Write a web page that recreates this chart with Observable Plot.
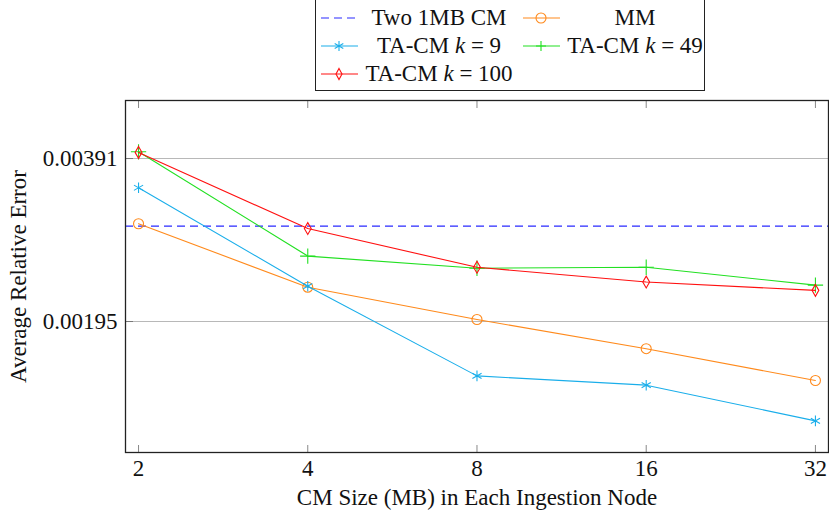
<!DOCTYPE html>
<html><head><meta charset="utf-8">
<script src="https://cdn.jsdelivr.net/npm/d3@7"></script>
<script src="https://cdn.jsdelivr.net/npm/@observablehq/plot@0.6"></script>
<style>
body{margin:0;background:#fff;}
#wrap{position:relative;width:829px;height:517px;font-family:"Liberation Serif",serif;overflow:hidden;}
#legend{position:absolute;left:315px;top:-2px;width:390px;height:93px;border:1.3px solid #222;box-sizing:border-box;background:#fff;}
.item{position:absolute;height:28px;display:flex;align-items:center;font-size:23px;color:#111;}
.item svg{flex:none;}
.item span{display:block;text-align:center;white-space:nowrap;}
#chart{position:absolute;left:0;top:95px;}
</style></head>
<body>
<div id="wrap"><div id="chart"></div><div id="legend"></div></div>
<script>
// ---- data ----
const sizes = [2, 4, 8, 16, 32];
const seriesNames = ["Two 1MB CM", "MM", "TA-CM k = 9", "TA-CM k = 49", "TA-CM k = 100"];
const twoCM = 0.00293;
const mm   = [0.00296, 0.00226, 0.00197, 0.00174, 0.00152];
const k9   = [0.00345, 0.00227, 0.00155, 0.00149, 0.00128];
const k49  = [0.00402, 0.00258, 0.00245, 0.00246, 0.00228];
const k100 = [0.00401, 0.00290, 0.00246, 0.00231, 0.00223];
const yTicks = [0.001953125, 0.00390625];
const yTickLabels = ["0.00195", "0.00391"];

// ---- styles ----
const FONT = '"Liberation Serif", serif';
const colors = {blue: "#2a2aff", orange: "#ff8a1c", cyan: "#1aaeea", green: "#22e022", red: "#ff1010"};
const series = [
  {name: seriesNames[1], values: mm, color: colors.orange, symbol: "circle", r: 5},
  {name: seriesNames[2], values: k9, color: colors.cyan, symbol: "asterisk", r: 5},
  {name: seriesNames[3], values: k49, color: colors.green, symbol: "plus", r: 5},
  {name: seriesNames[4], values: k100, color: colors.red, symbol: "diamond", r: 3.6}
];
const rows = series.flatMap(s => sizes.map((x, i) => ({x, y: s.values[i], name: s.name})));

const marks = [
  Plot.ruleY(yTicks, {stroke: "#b8b8b8", strokeWidth: 1.1}),
  Plot.ruleY([twoCM], {stroke: colors.blue, strokeWidth: 1.2, strokeDasharray: "8,5"}),
  Plot.axisY({ticks: yTicks, tickSize: -8, tickFormat: () => "", stroke: "#777", label: null}),
  Plot.axisY({ticks: yTicks, tickSize: 0, tickPadding: 8, tickFormat: d => yTickLabels[yTicks.indexOf(d)],
    label: "Average Relative Error", labelAnchor: "center", labelOffset: 116, labelArrow: "none", fill: "#111"}),
  Plot.axisX({ticks: sizes, tickSize: -7, tickFormat: () => "", stroke: "#888", label: null}),
  Plot.axisX({anchor: "top", ticks: sizes, tickSize: -7, tickFormat: () => "", stroke: "#888", label: null}),
  Plot.axisX({ticks: sizes, tickSize: 0, tickPadding: 7, tickFormat: d => String(d),
    label: "CM Size (MB) in Each Ingestion Node", labelAnchor: "center", labelOffset: 52, labelArrow: "none", fill: "#111"}),
];
for (const s of series) {
  const d = rows.filter(r => r.name === s.name);
  marks.push(Plot.line(d, {x: "x", y: "y", stroke: s.color, strokeWidth: 1.1}));
  marks.push(Plot.dot(d, {x: "x", y: "y", stroke: s.color, fill: "none", symbol: s.symbol, r: s.r, strokeWidth: 1.1}));
}
marks.push(Plot.frame({stroke: "#222", strokeWidth: 1.3}));

const chart = Plot.plot({
  width: 829, height: 422,
  marginTop: 5, marginBottom: 65, marginLeft: 125, marginRight: 1,
  style: {fontFamily: FONT, fontSize: "23px", color: "#111", background: "#fff"},
  x: {type: "log", base: 2, domain: [1.896, 33.76]},
  y: {type: "log", base: 2, domain: [0.001119, 0.0050]},
  marks
});
document.getElementById("chart").appendChild(chart);

// ---- legend ----
function swatch(color, symbol, dashed) {
  let m = "";
  if (symbol === "circle") m = `<circle cx="19" cy="10" r="5" fill="none" stroke="${color}" stroke-width="1.1"/>`;
  if (symbol === "asterisk") m = `<path d="M19,5V15M14.7,7.5L23.3,12.5M14.7,12.5L23.3,7.5" stroke="${color}" stroke-width="1.1"/>`;
  if (symbol === "plus") m = `<path d="M19,5V15M14,10H24" stroke="${color}" stroke-width="1.1"/>`;
  if (symbol === "diamond") m = `<path d="M19,4.5L22,10L19,15.5L16,10Z" fill="none" stroke="${color}" stroke-width="1.1"/>`;
  return `<svg width="40" height="20"><line x1="1" y1="10" x2="38" y2="10" stroke="${color}" stroke-width="1.2" ${dashed ? 'stroke-dasharray="8,5"' : ""}/>${m}</svg>`;
}
function labelHtml(name) {
  return name.replace(/ k = /, ' <i>k</i> = ');
}
const legendItems = [{name: seriesNames[0], color: colors.blue, symbol: null, dashed: true}, ...series];
const legend = document.getElementById("legend");
legendItems.forEach((it, i) => {
  const col = i % 2, row = Math.floor(i / 2);
  const div = document.createElement("div");
  div.className = "item";
  div.style.left = (col === 0 ? 4 : 206) + "px";
  div.style.top = (5 + 28 * row) + "px";
  div.innerHTML = swatch(it.color, it.symbol, it.dashed) + `<span style="width:${col === 0 ? 158 : 146}px">${labelHtml(it.name)}</span>`;
  legend.appendChild(div);
});
</script>
</body></html>
